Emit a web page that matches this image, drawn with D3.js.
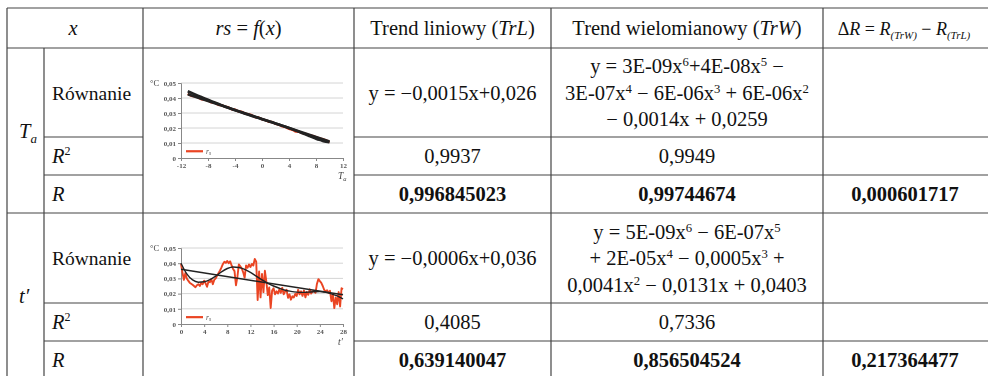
<!DOCTYPE html>
<html>
<head>
<meta charset="utf-8">
<script src="https://cdn.jsdelivr.net/npm/d3@7"></script>
<style>
  html, body { margin: 0; padding: 0; background: #fff; }
  svg { display: block; }
</style>
</head>
<body>
<svg id="tbl" width="988" height="376"></svg>
<script>
// ---- table content ----
const groupLabels = ["T", "t′"];
const groupSubs = ["a", ""];
const rowNames = ["Równanie", "R²", "R"];
const linearEq = ["y = −0,0015x+0,026", "y = −0,0006x+0,036"];
const polyEq = [
  ["y = 3E-09x^6+4E-08x^5 −", "3E-07x^4 − 6E-06x^3 + 6E-06x^2", "− 0,0014x + 0,0259"],
  ["y = 5E-09x^6 − 6E-07x^5", "+ 2E-05x^4 − 0,0005x^3 +", "0,0041x^2 − 0,0131x + 0,0403"]
];
const r2Linear = ["0,9937", "0,4085"];
const r2Poly = ["0,9949", "0,7336"];
const rLinear = ["0,996845023", "0,639140047"];
const rPoly = ["0,99744674", "0,856504524"];
const deltaR = ["0,000601717", "0,217364477"];

// ---- mini chart series ----
// Ta chart: x from -11 to 10 in steps of 0.5
const taStart = -11, taStep = 0.5;
const taValues = [0.0428, 0.0415, 0.0412, 0.0405, 0.0392, 0.0389, 0.0383, 0.0371, 0.0368, 0.0355,
  0.0352, 0.0342, 0.0338, 0.0325, 0.0322, 0.0311, 0.0308, 0.0296, 0.0292, 0.0285,
  0.0272, 0.0270, 0.0258, 0.0253, 0.0242, 0.0240, 0.0228, 0.0222, 0.0211, 0.0206,
  0.0194, 0.0188, 0.0176, 0.0174, 0.0166, 0.0160, 0.0153, 0.0147, 0.0139, 0.0131,
  0.0125, 0.0117, 0.0106];
const taLinCoef = [0.026, -0.0015];                     // c0, c1
const taPolyCoef = [0.0259, -0.0014, 6e-6, -6e-6, -3e-7, 4e-8, 3e-9]; // c0..c6
const taTicks = [-12, -8, -4, 0, 4, 8, 12];

// t' chart: t from 0 to 28 in steps of 0.25
const tpStart = 0, tpStep = 0.25;
const tpValues = [0.0395, 0.0340, 0.0290, 0.0335, 0.0300, 0.0285, 0.0272, 0.0265, 0.0258, 0.0250,
  0.0242, 0.0255, 0.0262, 0.0250, 0.0270, 0.0262, 0.0285, 0.0268, 0.0245, 0.0280,
  0.0275, 0.0295, 0.0262, 0.0290, 0.0300, 0.0318, 0.0335, 0.0352, 0.0372, 0.0395,
  0.0410, 0.0402, 0.0415, 0.0400, 0.0412, 0.0385, 0.0362, 0.0348, 0.0255, 0.0310,
  0.0392, 0.0380, 0.0365, 0.0340, 0.0305, 0.0385, 0.0370, 0.0392, 0.0375, 0.0395,
  0.0385, 0.0428, 0.0410, 0.0158, 0.0345, 0.0175, 0.0330, 0.0210, 0.0350, 0.0280,
  0.0190, 0.0240, 0.0105, 0.0220, 0.0235, 0.0195, 0.0215, 0.0200, 0.0228, 0.0205,
  0.0238, 0.0195, 0.0215, 0.0225, 0.0172, 0.0195, 0.0160, 0.0182, 0.0175, 0.0198,
  0.0185, 0.0225, 0.0195, 0.0215, 0.0185, 0.0220, 0.0175, 0.0210, 0.0192, 0.0228,
  0.0200, 0.0215, 0.0218, 0.0205, 0.0265, 0.0295, 0.0282, 0.0270, 0.0250, 0.0225,
  0.0215, 0.0222, 0.0205, 0.0218, 0.0150, 0.0195, 0.0105, 0.0175, 0.0130, 0.0210,
  0.0115, 0.0235, 0.0230];
const tpLinCoef = [0.036, -0.0006];
// fitted polynomial curve, one value per whole t from 0 to 28
const tpPolyValues = [0.0400, 0.0330, 0.0290, 0.0275, 0.0278, 0.0292, 0.0315, 0.0343, 0.0365, 0.0375,
  0.0372, 0.0360, 0.0340, 0.0315, 0.0290, 0.0268, 0.0250, 0.0235, 0.0222, 0.0215,
  0.0210, 0.0208, 0.0210, 0.0212, 0.0213, 0.0208, 0.0198, 0.0185, 0.0165];
const tpTicks = [0, 4, 8, 12, 16, 20, 24, 28];
const yTicks = [0, 0.01, 0.02, 0.03, 0.04, 0.05];

// ---- layout ----
const colX = [7, 44, 143, 354, 551, 823, 992];
const headTop = 8, headBot = 48;
const groupRows = [[48, 137, 175, 213], [213, 303, 341, 379]];
const FS = 20.5;
const SERIF = "'Liberation Serif', 'Times New Roman', Tinos, 'DejaVu Serif', serif";
const lineColor = "#444";

const svg = d3.select("#tbl").attr("font-family", SERIF);

// write a string where "^n" becomes a superscript
function richText(sel, str) {
  const parts = str.split(/(\^\d)/).filter(p => p.length);
  let raised = false;
  parts.forEach(p => {
    if (p.startsWith("^")) {
      sel.append("tspan").attr("dy", -7).attr("font-size", FS * 0.62).text(p.slice(1));
      raised = true;
    } else {
      const t = sel.append("tspan").text(p);
      if (raised) { t.attr("dy", 7); raised = false; }
    }
  });
}

// ---- grid lines ----
const gl = svg.append("g").attr("stroke", lineColor).attr("stroke-width", 1.2).attr("fill", "none");
const hLine = (y, x1, x2) => gl.append("line").attr("x1", x1).attr("x2", x2).attr("y1", y).attr("y2", y);
const vLine = (x, y1, y2) => gl.append("line").attr("x1", x).attr("x2", x).attr("y1", y1).attr("y2", y2);
hLine(headTop, colX[0], colX[6]);
hLine(headBot, colX[0], colX[6]);
groupRows.forEach(r => {
  hLine(r[1], colX[1], colX[2]); hLine(r[1], colX[3], colX[6]);
  hLine(r[2], colX[1], colX[2]); hLine(r[2], colX[3], colX[6]);
  hLine(r[3], colX[0], colX[6]);
});
[0, 2, 3, 4, 5, 6].forEach(i => vLine(colX[i], headTop, 379));
vLine(colX[1], headBot, 379);

// ---- header ----
const hy = 35;
const head = svg.append("g").attr("font-size", FS).attr("text-anchor", "middle").attr("fill", "#111");
head.append("text").attr("x", 73).attr("y", hy).attr("font-style", "italic").text("x");
{
  const t = head.append("text").attr("x", (colX[2] + colX[3]) / 2).attr("y", hy);
  t.append("tspan").attr("font-style", "italic").text("rs");
  t.append("tspan").text(" = ");
  t.append("tspan").attr("font-style", "italic").text("f");
  t.append("tspan").text("(");
  t.append("tspan").attr("font-style", "italic").text("x");
  t.append("tspan").text(")");
}
{
  const t = head.append("text").attr("x", (colX[3] + colX[4]) / 2).attr("y", hy);
  t.append("tspan").text("Trend liniowy (");
  t.append("tspan").attr("font-style", "italic").text("TrL");
  t.append("tspan").text(")");
}
{
  const t = head.append("text").attr("x", (colX[4] + colX[5]) / 2).attr("y", hy);
  t.append("tspan").text("Trend wielomianowy (");
  t.append("tspan").attr("font-style", "italic").text("TrW");
  t.append("tspan").text(")");
}
{
  const t = head.append("text").attr("x", 904).attr("y", hy).attr("font-size", 18);
  t.append("tspan").text("Δ");
  t.append("tspan").attr("font-style", "italic").text("R");
  t.append("tspan").text(" = ");
  t.append("tspan").attr("font-style", "italic").text("R");
  t.append("tspan").attr("font-style", "italic").attr("font-size", 11).attr("dy", 4).text("(TrW)");
  t.append("tspan").attr("dy", -4).text(" − ");
  t.append("tspan").attr("font-style", "italic").text("R");
  t.append("tspan").attr("font-style", "italic").attr("font-size", 11).attr("dy", 4).text("(TrL)");
}

// ---- body ----
const body = svg.append("g").attr("font-size", FS).attr("fill", "#111");
groupRows.forEach((r, gi) => {
  const midG = (r[0] + r[3]) / 2;
  // group label
  const gt = body.append("text").attr("x", 19).attr("y", midG + 7).attr("font-style", "italic");
  gt.append("tspan").text(groupLabels[gi]);
  if (groupSubs[gi]) gt.append("tspan").attr("font-size", 13).attr("dy", 5).text(groupSubs[gi]);

  const m0 = (r[0] + r[1]) / 2, m1 = (r[1] + r[2]) / 2, m2 = (r[2] + r[3]) / 2;
  body.append("text").attr("x", 52).attr("y", m0 + 7).attr("font-size", 19.5).text(rowNames[0]);
  const r2 = body.append("text").attr("x", 52).attr("y", m1 + 7).attr("font-style", "italic");
  r2.append("tspan").text("R");
  r2.append("tspan").attr("dy", -8).attr("font-size", 12).attr("font-style", "normal").text("2");
  body.append("text").attr("x", 52).attr("y", m2 + 7).attr("font-style", "italic").text("R");

  const cL = (colX[3] + colX[4]) / 2, cP = (colX[4] + colX[5]) / 2, cD = 905;
  body.append("text").attr("x", cL).attr("y", m0 + 7).attr("text-anchor", "middle").text(linearEq[gi]);
  polyEq[gi].forEach((line, li) => {
    const t = body.append("text").attr("x", cP).attr("y", m0 + 7 + (li - 1) * 26.5).attr("text-anchor", "middle");
    richText(t, line);
  });
  body.append("text").attr("x", cL).attr("y", m1 + 7).attr("text-anchor", "middle").text(r2Linear[gi]);
  body.append("text").attr("x", cP).attr("y", m1 + 7).attr("text-anchor", "middle").text(r2Poly[gi]);
  [[cL, rLinear[gi]], [cP, rPoly[gi]], [cD, deltaR[gi]]].forEach(([x, v]) => {
    body.append("text").attr("x", x).attr("y", m2 + 7).attr("text-anchor", "middle")
      .attr("font-weight", "bold").text(v);
  });
});

// ---- mini charts ----
const defs = svg.append("defs");
defs.append("filter").attr("id", "soft").append("feGaussianBlur").attr("stdDeviation", 0.4);

function evalPoly(c, x) { return c.reduce((s, k, i) => s + k * Math.pow(x, i), 0); }

function miniChart(cfg) {
  const g = svg.append("g").attr("filter", "url(#soft)");
  const x = d3.scaleLinear().domain(cfg.xDomain).range([181, 343]);
  const y = d3.scaleLinear().domain([0, 0.05]).range([cfg.y0, cfg.y5]);
  // grid
  g.append("g").selectAll("line").data(yTicks.slice(1)).join("line")
    .attr("x1", x.range()[0]).attr("x2", x.range()[1])
    .attr("y1", d => y(d)).attr("y2", d => y(d))
    .attr("stroke", "#cfcfcf").attr("stroke-width", 0.9);
  // axes
  const ya = g.append("g").attr("transform", `translate(${x.range()[0]},0)`)
    .call(d3.axisLeft(y).tickValues(yTicks).tickSize(3).tickFormat(d => d === 0 ? "0" : d3.format(".2f")(d).replace(".", ",")));
  const xa = g.append("g").attr("transform", `translate(0,${y(0)})`)
    .call(d3.axisBottom(x).tickValues(cfg.ticks).tickSize(3).tickFormat(d => d < 0 ? "-" + Math.abs(d) : d));
  [ya, xa].forEach(a => {
    a.attr("font-family", SERIF);
    a.select(".domain").attr("stroke", "#888");
    a.selectAll(".tick line").attr("stroke", "#888");
    a.selectAll("text").attr("font-size", 7).attr("font-weight", "bold").attr("fill", "#555");
  });
  ya.selectAll("text").attr("x", -5);
  xa.selectAll("text").attr("y", 5);
  g.append("text").attr("x", 150).attr("y", cfg.y5 + 3).attr("font-size", 8.5).attr("fill", "#444").text("°C");
  const al = g.append("text").attr("x", 338).attr("y", y(0) + 21).attr("font-size", 9.5).attr("font-style", "italic").attr("fill", "#444");
  al.append("tspan").text(cfg.axisLabel);
  if (cfg.axisSub) al.append("tspan").attr("font-size", 6.5).attr("dy", 2).text(cfg.axisSub);

  const line = d3.line().x(d => x(d[0])).y(d => y(d[1]));
  const series = cfg.values.map((v, i) => [cfg.start + i * cfg.step, v]);
  g.append("path").datum(series).attr("d", line).attr("fill", "none")
    .attr("stroke", "#ea4424").attr("stroke-width", cfg.redW).attr("stroke-linejoin", "round");
  const ends = [series[0][0], series[series.length - 1][0]];
  g.append("path").datum(ends.map(t => [t, evalPoly(cfg.lin, t)])).attr("d", line)
    .attr("fill", "none").attr("stroke", "#222").attr("stroke-width", cfg.trendW);
  g.append("path").datum(cfg.poly).attr("d", line.curve(d3.curveMonotoneX))
    .attr("fill", "none").attr("stroke", "#222").attr("stroke-width", cfg.trendW);
  // legend
  const ly = y(0.0045);
  g.append("line").attr("x1", 186).attr("x2", 203).attr("y1", ly).attr("y2", ly)
    .attr("stroke", "#ea4424").attr("stroke-width", 2.2);
  const lt = g.append("text").attr("x", 206).attr("y", ly + 2.5).attr("font-size", 7.5).attr("font-style", "italic").attr("fill", "#555");
  lt.append("tspan").text("r");
  lt.append("tspan").attr("font-size", 5.5).attr("dy", 1.5).text("s");
}

const taPolyPts = d3.range(taValues.length).map(i => {
  const t = taStart + i * taStep; return [t, evalPoly(taPolyCoef, t)];
});
miniChart({
  xDomain: [-12, 12], ticks: taTicks, y0: 158, y5: 83,
  start: taStart, step: taStep, values: taValues,
  lin: taLinCoef, poly: taPolyPts, redW: 2.4, trendW: 2.6,
  axisLabel: "T", axisSub: "a"
});
miniChart({
  xDomain: [0, 28], ticks: tpTicks, y0: 324, y5: 248,
  start: tpStart, step: tpStep, values: tpValues,
  lin: tpLinCoef, poly: tpPolyValues.map((v, i) => [i, v]), redW: 1.9, trendW: 1.4,
  axisLabel: "t′", axisSub: ""
});
</script>
</body>
</html>
